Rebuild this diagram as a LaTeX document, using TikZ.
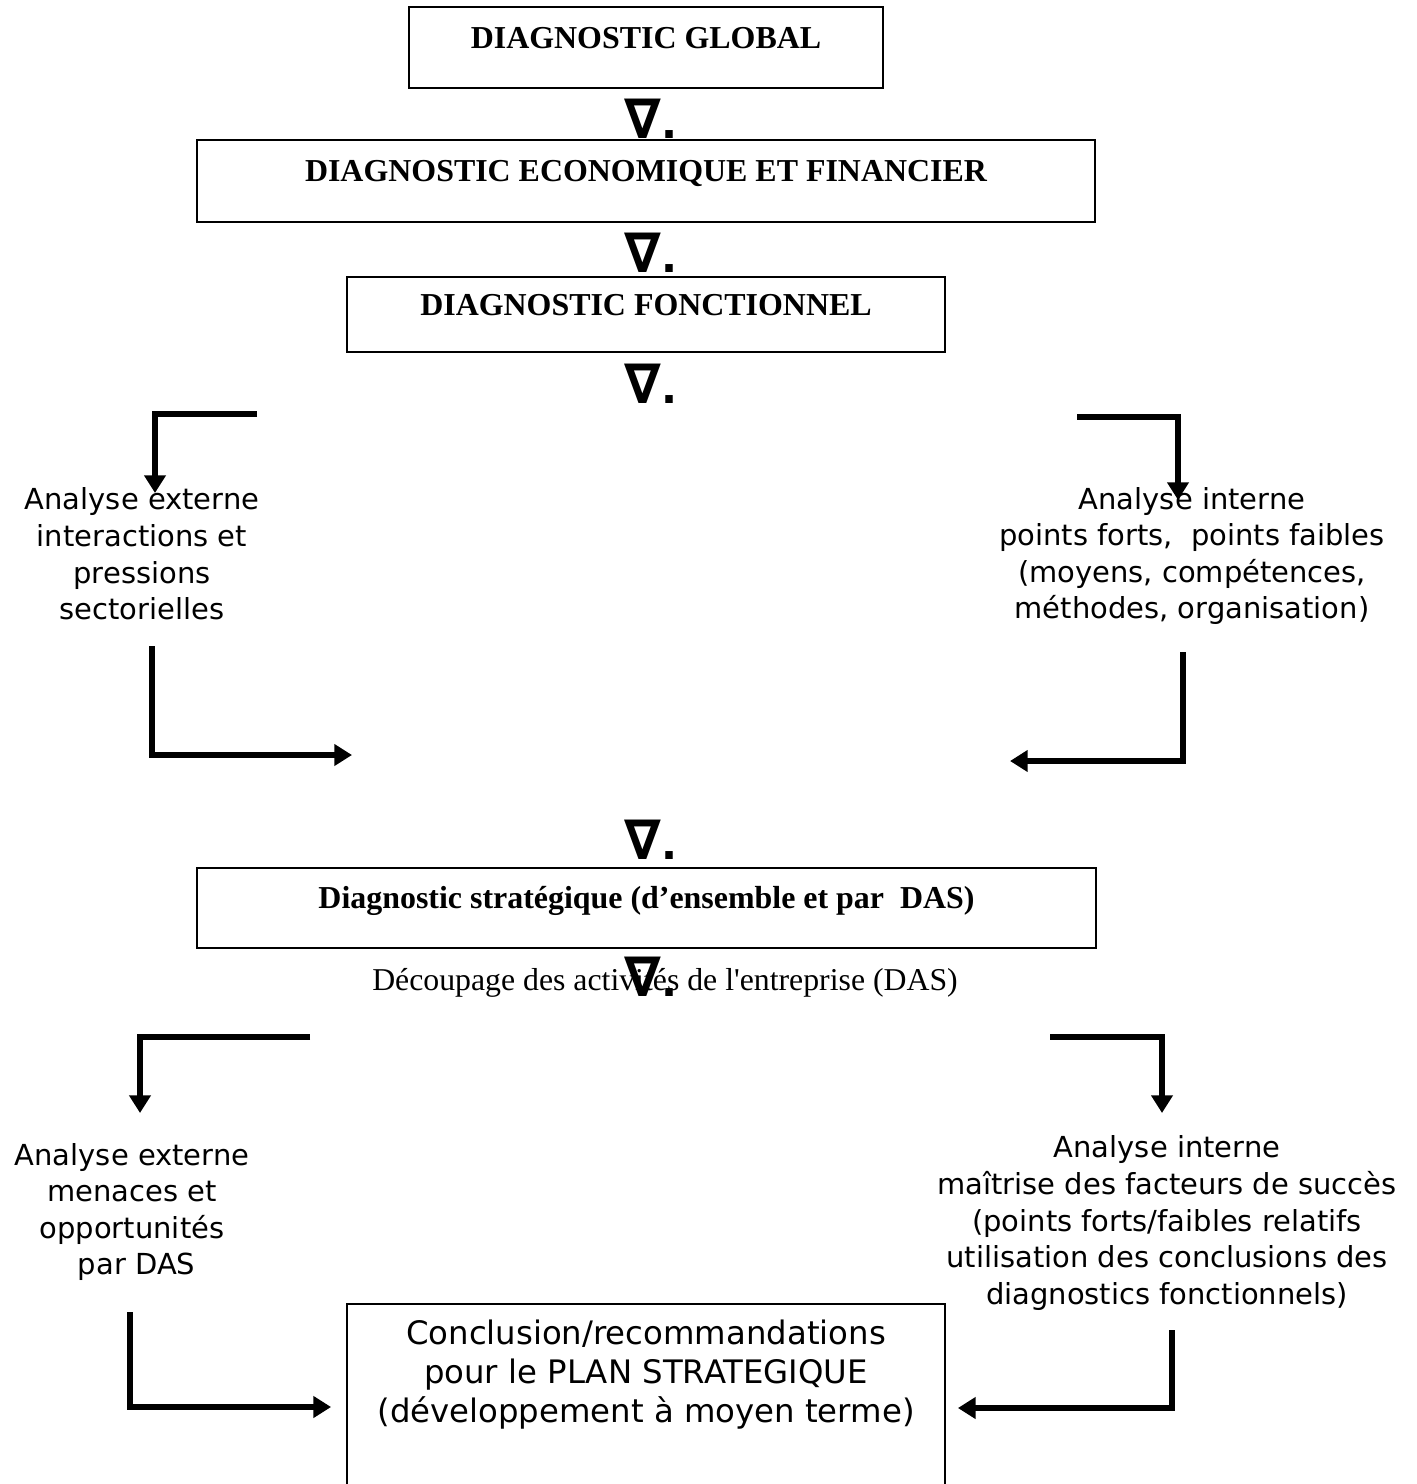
\documentclass[tikz,border=0pt]{standalone}
\usepackage{fontspec}
\setmainfont{Liberation Serif}
\newfontfamily\dejavu{DejaVu Sans}
\usetikzlibrary{arrows.meta, positioning, calc}
\tikzset{
  cx/.style = {draw=black, line width=1.2pt, inner sep=0pt, text height=0.53cm,
    text depth=0.5cm, font=\bfseries\fontsize{22.7}{27}\selectfont},
  nb/.style = {inner sep=0pt, font=\dejavu\bfseries\fontsize{30}{30}\selectfont},
  lat/.style = {align=center, inner sep=0pt, font=\dejavu\fontsize{20.6}{26}\selectfont},
  concl/.style = {draw=black, line width=1.2pt, align=center, inner xsep=0pt,
    inner ysep=0.4cm, text depth=3cm, font=\dejavu\fontsize{23}{27.7}\selectfont},
  seta/.style = {-{Triangle[length=0.44cm,width=0.52cm]}, line width=3.8pt}
}
\newcommand{\nab}{\scalebox{1.25}[1.3]{∇}.}

\begin{document}
\begin{tikzpicture}[x=0.025cm, y=-0.025cm]
  \useasboundingbox (0,0) rectangle (1416,1484);
  \clip (0,0) rectangle (1416,1484);

  % diagnostics en cascade
  \node [cx, minimum width=11.85cm, minimum height=2.03cm] (glob) at (646,47.5) {DIAGNOSTIC GLOBAL};
  \node [nb] (n1) at (651,119) {\nab};
  \node [cx, minimum width=22.45cm, minimum height=2.05cm] (eco) at (646,181) {DIAGNOSTIC ECONOMIQUE ET FINANCIER};
  \node [nb] (n2) at (651,253) {\nab};
  \node [cx, minimum width=14.95cm, minimum height=1.88cm] (fonc) at (646,314.5) {DIAGNOSTIC FONCTIONNEL};
  \node [nb] (n3) at (651,384) {\nab};

  % analyses du diagnostic fonctionnel
  \node [lat] (ext1) at (142,554) {Analyse externe\\interactions et\\pressions\\sectorielles};
  \node [lat] (int1) at (1192,556) {Analyse interne\\points forts,~ points faibles\\(moyens, compétences,\\méthodes, organisation)};
  \coordinate (a1) at (257,414);  \coordinate (b1) at (155,493);
  \coordinate (a2) at (1077,417); \coordinate (b2) at (1178,500);
  \coordinate (a3) at (152,646);  \coordinate (b3) at (352,755);
  \coordinate (a4) at (1183,652); \coordinate (b4) at (1010,761);
  \draw [seta] (a1) -| (b1);
  \draw [seta] (a2) -| (b2);
  \draw [seta] (a3) |- (b3);
  \draw [seta] (a4) |- (b4);

  % diagnostic strategique
  \node [nb] (n4) at (651,840) {\nab};
  \node [cx, minimum width=22.48cm, minimum height=2cm] (strat) at (646.5,908) {Diagnostic stratégique (d’ensemble et par~ DAS)};
  \node [font=\fontsize{22.6}{27}\selectfont, inner sep=0pt] (dec) at (665,983) {Découpage des activités de l\textquotesingle entreprise (DAS)};
  \node [nb] (n5) at (651,977) {\nab};

  % analyses par DAS
  \node [lat] (ext2) at (132,1212) {Analyse externe\\menaces et\\opportunités\\~par DAS};
  \node [lat] (int2) at (1167,1223) {Analyse interne\\maîtrise des facteurs de succès\\(points forts/faibles relatifs\\utilisation des conclusions des\\diagnostics fonctionnels)};
  \coordinate (a5) at (310,1037);  \coordinate (b5) at (140,1113);
  \coordinate (a6) at (1050,1037); \coordinate (b6) at (1162,1113);
  \draw [seta] (a5) -| (b5);
  \draw [seta] (a6) -| (b6);

  % conclusion
  \node [concl, minimum width=14.95cm, anchor=north] (plan) at (646,1303) {Conclusion/recommandations\\pour le PLAN STRATEGIQUE\\(développement à moyen terme)};
  \coordinate (a7) at (130,1312);
  \coordinate (a8) at (1172,1330);
  \draw [seta, shorten >=0.375cm] (a7) |- (plan.west |- 0,1407);
  \draw [seta, shorten >=0.3cm] (a8) |- (plan.east |- 0,1408);
\end{tikzpicture}
\end{document}
